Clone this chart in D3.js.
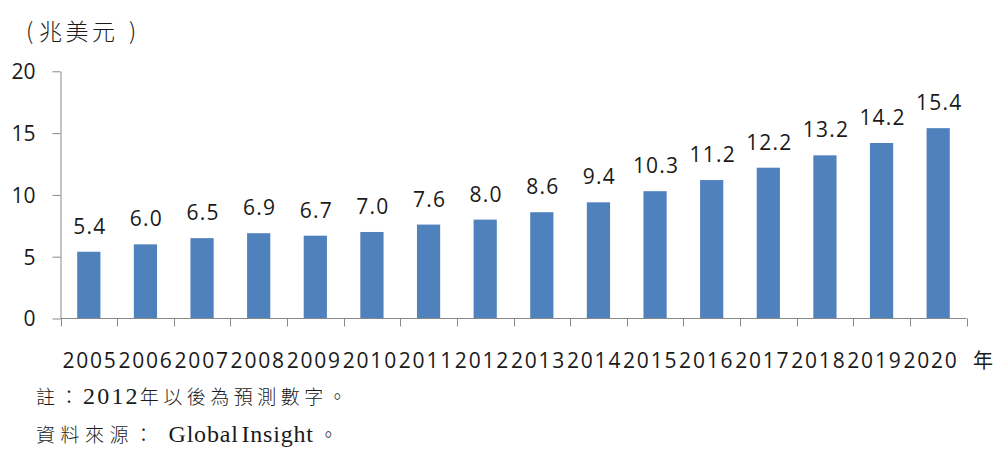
<html>
<head>
<meta charset="utf-8">
<script src="https://d3js.org/d3.v7.min.js"></script>
<style>
  body { margin: 0; background: #fff; }
  svg text { fill: #1a1a1a; }
</style>
</head>
<body>
<script>
// data
const years = ["2005","2006","2007","2008","2009","2010","2011","2012","2013","2014","2015","2016","2017","2018","2019","2020"];
const values = [5.4, 6.0, 6.5, 6.9, 6.7, 7.0, 7.6, 8.0, 8.6, 9.4, 10.3, 11.2, 12.2, 13.2, 14.2, 15.4];
const yTicks = [0, 5, 10, 15, 20];
const unitLabel = "兆美元";
const xUnit = "年";
// notes split into CJK / latin pieces
const noteParts = [["cjk", "註："], ["lat", "2012"], ["cjk", "年以後為預測數字。"]];
const sourceParts = [["cjk", "資料來源："], ["lat", "Global Insight"], ["cjk", "。"]];

const W = 997, H = 450;
const plot = { left: 60.5, right: 966.5, top: 71.3, bottom: 318.5 };
const numFont = "'Open Sans', 'Liberation Sans', sans-serif";
const cjkSans = "'Noto Sans CJK TC', sans-serif";
const axisColor = "#888";

const svg = d3.select("body").append("svg").attr("width", W).attr("height", H);

let x = d3.scaleBand().domain(years).range([plot.left, plot.right]).paddingInner(0.59).paddingOuter(0.295);
let xEdge = d3.scaleLinear().domain([0, years.length]).range([plot.left, plot.right]);
let xLabel = d3.scalePoint().domain(years).range([89, 930]);
let y = d3.scaleLinear().domain([0, 20]).range([plot.bottom, plot.top]);

// y axis
const yAxis = svg.append("g")
    .attr("transform", `translate(${plot.left},0)`)
    .call(d3.axisLeft(y).tickValues(yTicks).tickSize(8).tickSizeOuter(0).tickPadding(17).tickFormat(d3.format("d")));
yAxis.select(".domain").attr("stroke", axisColor);
yAxis.selectAll(".tick line").attr("stroke", axisColor);
yAxis.selectAll(".tick text")
    .attr("font-family", numFont).attr("font-size", 21).attr("fill", "#1a1a1a").attr("dy", "0.35em");

// bars
svg.append("g").selectAll("rect")
    .data(values)
    .join("rect")
    .attr("x", (d, i) => x(years[i]))
    .attr("width", x.bandwidth())
    .attr("y", d => y(d))
    .attr("height", d => y(0) - y(d))
    .attr("fill", "#4F81BD");

// x axis line + ticks at band edges
svg.append("line")
    .attr("x1", plot.left).attr("x2", plot.right).attr("y1", plot.bottom).attr("y2", plot.bottom)
    .attr("stroke", axisColor);
svg.append("g").selectAll("line")
    .data(d3.range(years.length + 1))
    .join("line")
    .attr("x1", d => Math.round(xEdge(d)) + 0.5).attr("x2", d => Math.round(xEdge(d)) + 0.5)
    .attr("y1", plot.bottom).attr("y2", plot.bottom + 8)
    .attr("stroke", axisColor);

// year labels
svg.append("g").selectAll("text")
    .data(years)
    .join("text")
    .attr("x", d => xLabel(d) + 1)
    .attr("y", 368)
    .attr("text-anchor", "middle")
    .attr("font-family", numFont).attr("font-size", 21)
    .attr("letter-spacing", 1.8)
    .text(d => d);

svg.append("text")
    .attr("x", 973).attr("y", 368)
    .attr("font-family", cjkSans).attr("font-size", 20)
    .text(xUnit);

// value labels
svg.append("g").selectAll("text")
    .data(values)
    .join("text")
    .attr("x", (d, i) => x(years[i]) + x.bandwidth() / 2 + 1)
    .attr("y", d => y(d) - 18)
    .attr("text-anchor", "middle")
    .attr("font-family", numFont).attr("font-size", 21)
    .attr("letter-spacing", 1.2)
    .text(d => d.toFixed(1));

// unit label "( 兆美元 )"
const unitG = svg.append("g").attr("font-family", cjkSans).attr("font-weight", 300);
unitG.append("text").attr("x", 29.5).attr("y", 40).attr("text-anchor", "middle")
    .attr("font-size", 23).attr("fill", "#333").text("(");
unitG.append("text").attr("x", 39).attr("y", 40)
    .attr("font-size", 23).attr("letter-spacing", 3.5).attr("fill", "#333").text(unitLabel);
unitG.append("text").attr("x", 132.5).attr("y", 40).attr("text-anchor", "middle")
    .attr("font-size", 23).attr("fill", "#333").text(")");

// notes
function noteLine(parts, yPos, cjkSpacing, latDx, tailDx) {
    const t = svg.append("text").attr("x", 36).attr("y", yPos);
    parts.forEach(([kind, str], i) => {
        const s = t.append("tspan").text(str);
        if (kind === "cjk") {
            s.attr("font-family", "'Noto Sans CJK TC', serif").attr("font-size", 19)
             .attr("font-weight", 300).attr("letter-spacing", cjkSpacing);
            if (i > 0) s.attr("dx", tailDx);
        } else {
            s.attr("font-family", "'Liberation Serif', serif").attr("font-size", 24)
             .attr("letter-spacing", str === "2012" ? 2.2 : 0.8)
             .attr("word-spacing", -4)
             .attr("dx", latDx);
        }
    });
}
noteLine(noteParts, 404, 4.5, 0, 0);
noteLine(sourceParts, 442, 5.5, 10, 5);
</script>
</body>
</html>
